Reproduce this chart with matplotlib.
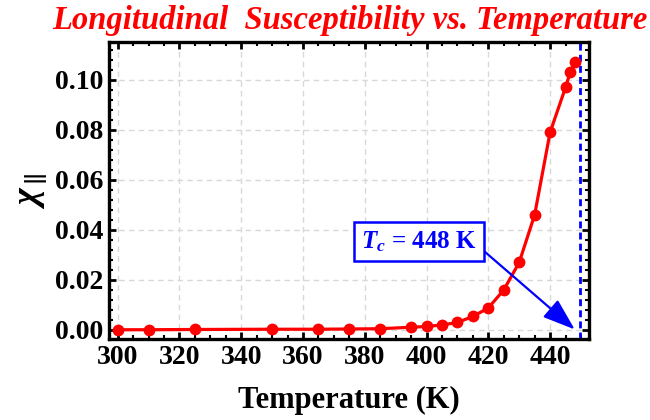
import matplotlib
matplotlib.use("Agg")
import matplotlib.pyplot as plt
from matplotlib.ticker import MultipleLocator

plt.rcParams['font.family'] = ['Liberation Serif', 'DejaVu Serif']
plt.rcParams['font.weight'] = 'bold'
plt.rcParams['mathtext.fontset'] = 'custom'
plt.rcParams['mathtext.rm'] = 'Liberation Serif:bold'
plt.rcParams['mathtext.it'] = 'Liberation Serif:italic'
plt.rcParams['mathtext.bf'] = 'Liberation Serif:bold'
plt.rcParams['mathtext.bfit'] = 'Liberation Serif:italic:bold'

# ----- data -----
temperature = [300, 310, 325, 350, 365, 375, 385, 395, 400, 405,
               410, 415, 420, 425, 430, 435, 440, 445, 446.5, 448]
chi_par = [0.0001, 0.0001, 0.0002, 0.0003, 0.0003, 0.0004, 0.0005, 0.0011, 0.0014, 0.0020,
           0.0030, 0.0054, 0.0088, 0.0160, 0.0270, 0.0460, 0.0790, 0.0970, 0.1030, 0.1070]
tc = 448
tc_line = 449.7
xticks = [300, 320, 340, 360, 380, 400, 420, 440]
yticks = [0.00, 0.02, 0.04, 0.06, 0.08, 0.10]

fig = plt.figure(figsize=(6.5, 4.2), dpi=100)
ax = fig.add_axes([0.1677, 0.1929, 0.7389, 0.7078])

ax.plot(temperature, chi_par, color='red', lw=2.3, marker='o', ms=8.5,
        markeredgewidth=0, zorder=3)
ax.axvline(tc_line, color='blue', lw=2.0, ls=(0, (2.5, 1.5)), zorder=2)

# Tc annotation: boxed label with arrow to the transition point
ax.text(397.6, 0.0353, r'$\mathbfit{T}_{\mathbfit{c}}$ = %d K' % tc, color='blue',
        fontsize=18, ha='center', va='center', zorder=5,
        bbox=dict(boxstyle='square,pad=0.28', fc='white', ec='blue', lw=1.8))
ax.annotate('', xy=(tc, 0.0002), xytext=(418.2, 0.032),
            arrowprops=dict(arrowstyle='-|>,head_length=1.0,head_width=0.35',
                            color='blue', lw=1.6, shrinkA=0, shrinkB=0,
                            mutation_scale=20), zorder=4)

ax.set_xlim(297.2, 452.7)
ax.set_ylim(-0.0036, 0.1153)
ax.set_xticks(xticks)
ax.set_yticks(yticks)
ax.set_yticklabels(['%.2f' % v for v in yticks])
ax.xaxis.set_minor_locator(MultipleLocator(5))
ax.yaxis.set_minor_locator(MultipleLocator(0.004))
ax.tick_params(which='both', direction='in', top=True, right=True,
               color='black', labelsize=20, pad=4)
ax.tick_params(which='major', length=5, width=2)
ax.tick_params(which='minor', length=3, width=1.5)
for sp in ax.spines.values():
    sp.set_linewidth(2.4)

ax.grid(True, which='major', color='#d8d8d8', ls=(0, (4, 3)), lw=1)

ax.set_xlabel('Temperature (K)', fontsize=22, fontweight='bold', labelpad=12)
ax.set_ylabel(r'$\mathit{\chi}_{\parallel}$', fontsize=26, labelpad=4)
fig.text(0.538, 0.950, 'Longitudinal  Susceptibility vs. Temperature',
         color='red', fontsize=23.5, fontstyle='italic', fontweight='bold',
         ha='center', va='center')

fig.savefig('out.png', dpi=100)
